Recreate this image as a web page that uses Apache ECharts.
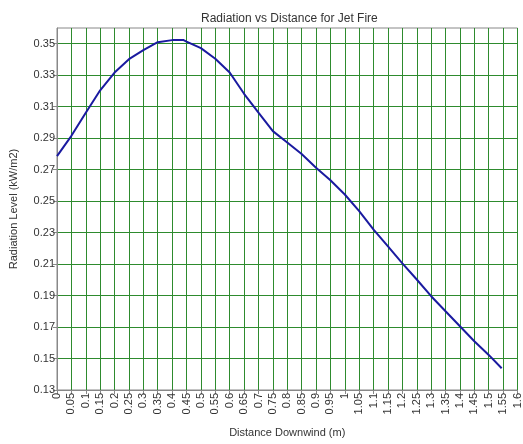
<!DOCTYPE html>
<html>
<head>
<meta charset="utf-8">
<script src="https://cdn.jsdelivr.net/npm/echarts@6/dist/echarts.min.js"></script>
<style>
html,body{margin:0;padding:0;background:#fff;}
#chart{width:523px;height:444px;}
</style>
</head>
<body>
<div id="chart"></div>
<script>
var distance = [0, 0.05, 0.1, 0.15, 0.2, 0.25, 0.3, 0.35, 0.4, 0.44, 0.45, 0.5, 0.55, 0.6, 0.65, 0.7, 0.75, 0.8, 0.85, 0.9, 0.95, 1.0, 1.05, 1.1, 1.15, 1.2, 1.25, 1.3, 1.35, 1.4, 1.45, 1.5, 1.545];
var radiation = [0.2786, 0.2915, 0.3062, 0.3204, 0.3317, 0.3402, 0.3459, 0.3510, 0.3523, 0.3523, 0.3514, 0.3472, 0.3405, 0.3317, 0.3182, 0.3062, 0.2945, 0.2873, 0.2799, 0.2712, 0.2633, 0.2542, 0.2436, 0.2319, 0.2212, 0.2105, 0.2002, 0.1896, 0.1800, 0.1705, 0.1610, 0.1523, 0.1438];
var titleText = 'Radiation vs Distance for Jet Fire';
var xTitle = 'Distance Downwind (m)';
var yTitle = 'Radiation Level (kW/m2)';

var data = distance.map(function (d, i) { return [d, radiation[i]]; });
var font = 'Liberation Sans, Arial, sans-serif';
var gridGreen = '#2e8b2e';
var chart = echarts.init(document.getElementById('chart'), null, {renderer: 'canvas'});
chart.setOption({
  animation: false,
  backgroundColor: '#fff',
  title: {
    text: titleText,
    left: 196,
    top: 8,
    textStyle: {fontFamily: font, fontSize: 12, fontWeight: 'normal', color: '#333'}
  },
  grid: {left: 54, right: 1, top: 28, bottom: 54, show: true, borderColor: '#888', borderWidth: 1, containLabel: false},
  xAxis: {
    type: 'value', min: 0, max: 1.6, interval: 0.05,
    name: xTitle, nameLocation: 'middle', nameGap: 37,
    nameTextStyle: {fontFamily: font, fontSize: 11, color: '#333'},
    axisLine: {show: true, lineStyle: {color: '#888'}},
    axisTick: {show: true, interval: 0, length: 4, lineStyle: {color: '#888'}},
    axisLabel: {rotate: 90, interval: 0, margin: 3, fontFamily: font, fontSize: 11, color: '#333',
      formatter: function (v) { return String(parseFloat(v.toFixed(2))); }},
    splitLine: {show: true, interval: 0, lineStyle: {color: gridGreen, width: 1}}
  },
  yAxis: {
    type: 'value', min: 0.13, max: 0.36, interval: 0.02,
    name: yTitle, nameLocation: 'middle', nameGap: 38, nameRotate: 90,
    nameTextStyle: {fontFamily: font, fontSize: 11, color: '#333'},
    axisLine: {show: true, lineStyle: {color: '#888'}},
    axisTick: {show: true, length: 4, lineStyle: {color: '#888'}},
    axisLabel: {margin: 2, fontFamily: font, fontSize: 11, color: '#333', showMaxLabel: false,
      formatter: function (v) { return v.toFixed(2); }},
    splitLine: {show: true, showMaxLine: false, lineStyle: {color: gridGreen, width: 1}}
  },
  series: [{
    type: 'line', data: data, showSymbol: false, smooth: false,
    lineStyle: {color: '#1a1aa0', width: 2}
  }]
});
</script>
</body>
</html>
